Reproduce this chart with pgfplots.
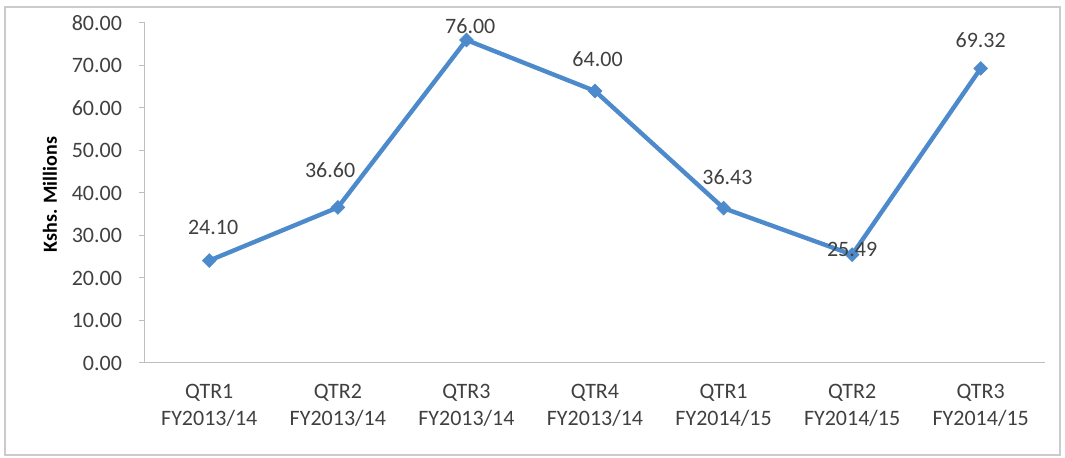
\documentclass[border=0pt]{standalone}
\usepackage{pgfplots}
\pgfplotsset{compat=1.18}
\usepackage{fontspec}
\setmainfont{Carlito}
\definecolor{lineblue}{RGB}{76,138,204}
\definecolor{axgray}{RGB}{190,190,190}
\definecolor{txt}{RGB}{64,64,64}
\begin{document}
\begin{tikzpicture}
\useasboundingbox (-72.5pt,-47.5pt) rectangle (460pt,181.5pt);
\draw[color=axgray!80, line width=0.6pt] (-70pt,-46pt) rectangle (457.5pt,178pt);
\begin{axis}[
  at={(0,0)}, anchor=south west,
  scale only axis, width=450pt, height=170pt,
  xmin=-0.5, xmax=6.5, ymin=0, ymax=80,
  axis x line*=bottom, axis y line*=left,
  axis line style={draw=axgray, line width=0.5pt, -},
  xtick={0,...,6},
  xticklabels={{QTR1\\FY2013/14},{QTR2\\FY2013/14},{QTR3\\FY2013/14},{QTR4\\FY2013/14},{QTR1\\FY2014/15},{QTR2\\FY2014/15},{QTR3\\FY2014/15}},
  xticklabel style={align=center, font=\fontsize{11}{13.5}\selectfont, text=txt, yshift=-4pt},
  x tick style={draw=none},
  extra x ticks={-0.5,0.5,1.5,2.5,3.5,4.5,5.5,6.5},
  extra x tick labels={},
  extra x tick style={tick style={draw=axgray, line width=0.5pt}, major tick length=3pt, tick align=outside},
  ytick={0,10,...,80},
  y tick style={draw=axgray, line width=0.5pt},
  major tick length=3pt, tick align=outside,
  yticklabel style={font=\fontsize{11}{13}\selectfont, text=txt, /pgf/number format/fixed, /pgf/number format/precision=2, /pgf/number format/fixed zerofill, xshift=-5pt},
  /pgf/number format/assume math mode=true,
  ylabel={\textbf{Kshs. Millions}},
  ylabel style={font=\fontsize{10.5}{12}\selectfont, text=black},
  every axis y label/.style={at={(-47.5pt,0.495)}, rotate=90, anchor=center},
  clip=false,
]
\addplot[color=lineblue, line width=2.2pt, mark=square*, mark size=2.4pt, mark options={fill=lineblue, draw=lineblue, line width=0.4pt, rotate=45}]
  table[row sep=\\] {x y\\ 0 24.10\\ 1 36.60\\ 2 76.00\\ 3 64.00\\ 4 36.43\\ 5 25.49\\ 6 69.32\\};
\addplot[draw=none, mark=none, nodes near coords, point meta=explicit,
  nodes near coords align={center},
  every node near coord/.append style={font=\fontsize{11}{13}\selectfont, text=txt, anchor=center, /pgf/number format/fixed, /pgf/number format/precision=2, /pgf/number format/fixed zerofill, /pgf/number format/assume math mode=true}]
  table[row sep=\\, x=lx, y=ly, meta=v] {lx ly v\\ 0.03 31.8 24.10\\ 0.94 45.4 36.60\\ 2.03 79.3 76.00\\ 3.02 71.5 64.00\\ 4.03 43.8 36.43\\ 5.0 26.6 25.49\\ 6.0 76.0 69.32\\};
\end{axis}
\end{tikzpicture}
\end{document}
